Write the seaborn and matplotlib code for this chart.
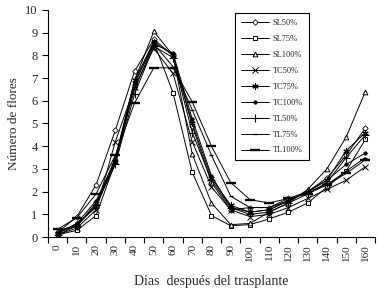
import numpy as np
import pandas as pd
import matplotlib
matplotlib.use("Agg")
import matplotlib.pyplot as plt
import seaborn as sns
from matplotlib.ticker import FixedLocator

days = [0, 10, 20, 30, 40, 50, 60, 70, 80, 90, 100, 110, 120, 130, 140, 150, 160]
series_names = ["SL50%", "SL75%", "SL100%", "TC50%", "TC75%", "TC100%", "TL50%", "TL75%", "TL100%"]

sl50 = [0.2, 0.9, 2.3, 4.7, 7.3, 8.7, 8.0, 4.9, 2.4, 1.2, 1.3, 1.3, 1.7, 2.0, 2.6, 3.6, 4.8]
sl75 = [0.1, 0.3, 0.95, 3.3, 6.7, 8.6, 6.35, 2.85, 0.95, 0.5, 0.55, 0.8, 1.1, 1.5, 2.2, 2.9, 4.3]
sl100 = [0.3, 0.5, 1.4, 3.5, 6.9, 9.05, 8.0, 3.65, 1.5, 0.55, 0.6, 1.1, 1.5, 2.1, 3.0, 4.4, 6.4]
tc50 = [0.1, 0.4, 1.2, 4.2, 6.6, 8.3, 7.2, 4.2, 2.2, 1.2, 0.9, 1.0, 1.3, 1.7, 2.1, 2.5, 3.1]
tc75 = [0.2, 0.5, 1.5, 3.3, 6.9, 8.6, 8.0, 5.0, 2.6, 1.4, 1.1, 1.2, 1.6, 2.0, 2.5, 3.8, 4.6]
tc100 = [0.2, 0.6, 1.6, 3.4, 6.8, 8.5, 8.1, 5.2, 2.7, 1.3, 1.1, 1.2, 1.6, 2.0, 2.5, 3.2, 3.7]
tl50 = [0.1, 0.5, 1.4, 3.2, 6.3, 8.4, 7.9, 4.6, 2.5, 1.3, 1.0, 1.1, 1.5, 1.9, 2.4, 3.5, 4.5]
tl75 = [0.15, 0.6, 1.3, 3.4, 6.5, 8.5, 7.5, 5.6, 3.6, 1.8, 1.3, 1.3, 1.6, 2.0, 2.3, 2.9, 3.5]
tl100 = [0.35, 0.85, 1.9, 3.6, 5.9, 7.45, 7.45, 5.95, 4.0, 2.4, 1.65, 1.5, 1.7, 1.9, 2.3, 2.8, 3.4]

values = [sl50, sl75, sl100, tc50, tc75, tc100, tl50, tl75, tl100]

rows = []
for name, vals in zip(series_names, values):
    for i, (d, v) in enumerate(zip(days, vals)):
        rows.append({"serie": name, "pos": i, "dia": d, "valor": v})
df = pd.DataFrame(rows)

sns.set_style("ticks")
plt.rcParams["font.family"] = ["Liberation Serif", "DejaVu Serif"]

fig = plt.figure(figsize=(3.78, 2.99), dpi=100)
ax = fig.add_axes([0.127, 0.207, 0.865, 0.760])

styles = {
    "SL50%": dict(marker="D", ms=2.8, mfc="white", mew=0.6),
    "SL75%": dict(marker="s", ms=3.2, mfc="white", mew=0.7),
    "SL100%": dict(marker="^", ms=3.4, mfc="white", mew=0.7),
    "TC50%": dict(marker="x", ms=4.0, mfc="none", mew=0.7),
    "TC75%": dict(marker=(6, 2, 0), ms=4.5, mfc="none", mew=0.8),
    "TC100%": dict(marker="o", ms=2.5, mfc="black", mew=0.5),
    "TL50%": dict(marker="+", ms=5.5, mfc="none", mew=0.8),
    "TL75%": dict(marker="_", ms=3.0, mfc="none", mew=1.0),
    "TL100%": dict(marker="_", ms=7, mfc="none", mew=1.7),
}

for name in series_names:
    sub = df[df["serie"] == name]
    st = styles[name]
    sns.lineplot(data=sub, x="pos", y="valor", ax=ax, color="black", lw=0.7,
                 marker=st["marker"], markersize=st["ms"], markerfacecolor=st["mfc"],
                 markeredgecolor="black", markeredgewidth=st["mew"], label=name)

ax.set_xlim(-0.5, len(days) - 0.5)
ax.set_ylim(0, 10)
ax.set_xticks(range(len(days)))
ax.set_xticklabels([str(d) for d in days], rotation=90, fontsize=8)
ax.xaxis.set_minor_locator(FixedLocator(np.arange(-0.5, len(days), 1.0)))
ax.tick_params(axis="x", which="major", length=0, pad=5)
ax.tick_params(axis="x", which="minor", length=4, width=0.8, direction="out", color="black")
ax.set_yticks(range(0, 11))
ax.tick_params(axis="y", labelsize=9, length=4, width=0.8, direction="out", color="black")
for s in ["left", "bottom"]:
    ax.spines[s].set_color("black")
    ax.spines[s].set_linewidth(0.8)
sns.despine(ax=ax)

ax.set_xlabel("Dias  después del trasplante", fontsize=10, labelpad=10)
ax.set_ylabel("Número de flores", fontsize=9.5, labelpad=4)

leg = ax.legend(loc="upper left", bbox_to_anchor=(0.572, 0.985), fontsize=6,
                frameon=True, fancybox=False, edgecolor="black", framealpha=1,
                handlelength=3.4, handletextpad=0.4, labelspacing=0.95,
                borderpad=0.7, borderaxespad=0)
leg.get_frame().set_linewidth(0.8)

fig.savefig("out.png", dpi=100)
